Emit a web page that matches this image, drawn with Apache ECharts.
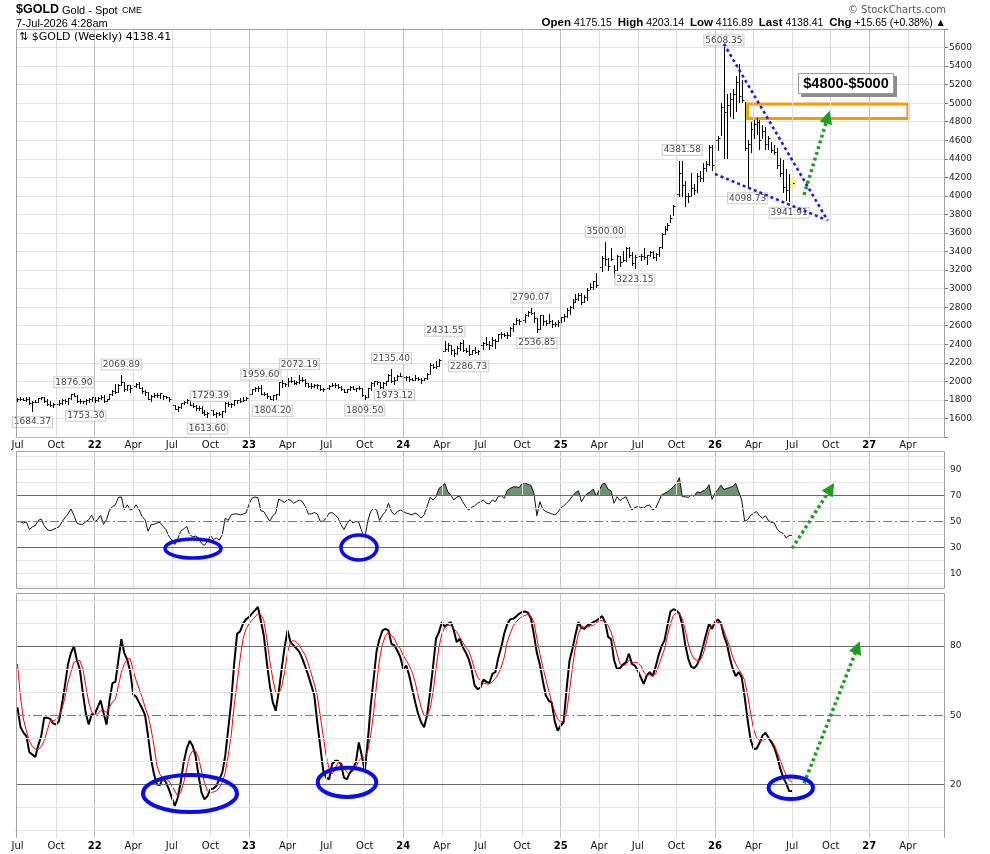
<!DOCTYPE html>
<html>
<head>
<meta charset="utf-8">
<title>$GOLD weekly</title>
<script src="https://cdn.jsdelivr.net/npm/echarts@6.0.0/dist/echarts.min.js"></script>
<style>
  html, body { margin: 0; padding: 0; background: #fff; }
  #chart { width: 990px; height: 854px; }
</style>
</head>
<body>
<div id="chart"></div>
<script>
// weekly bars [high, low, close], weeks start Mon 5-Jul-2021, one array per year
const hlc2021 = [
  [1818,1785,1808],[1834,1795,1812],[1825,1794,1802],[1832,1790,1814],[1832,1755,1763],
  [1783,1684.37,1779],[1795,1773,1781],[1822,1776,1817],[1834,1807,1827],[1827,1782,1788],
  [1809,1745,1754],[1787,1737,1750],[1764,1721,1761],[1781,1746,1757],[1800,1750,1768],
  [1814,1760,1796],[1810,1770,1783],[1819,1759,1818],[1868,1815,1864],[1876.90,1840,1846],
  [1849,1781,1788],[1808,1762,1783],[1793,1765,1783],[1814,1753.30,1798],[1816,1781,1809],
  [1831,1790,1829]
];
const hlc2022 = [
  [1830,1782,1797],[1830,1792,1818],[1848,1806,1835],[1853,1780,1791],[1814,1788,1808],
  [1865,1806,1859],[1902,1850,1898],[1974,1878,1889],[1975,1889,1966],[2069.89,1966,1988],
  [1990,1895,1921],[1966,1910,1958],[1960,1890,1925],[1945,1915,1945],[1980,1940,1974],
  [1998,1925,1931],[1934,1872,1896],[1910,1850,1883],[1884,1808,1811],[1850,1786,1846],
  [1870,1828,1853],[1874,1828,1851],[1876,1825,1871],[1857,1805,1840],[1847,1816,1827],
  [1832,1784,1811],[1813,1732,1742],[1745,1697,1703],[1739,1681,1727],[1767,1711,1766],
  [1788,1754,1775],[1807,1764,1802],[1802,1745,1747],[1765,1728,1738],[1740,1688,1712],
  [1735,1691,1716],[1735,1654,1675],[1688,1639,1644],[1674,1613.60,1660],[1729.39,1659,1695],
  [1690,1641,1644],[1670,1618,1657],[1675,1637,1645],[1684,1616,1681],[1775,1673,1771],
  [1787,1738,1751],[1763,1728,1755],[1804,1740,1797],[1800,1765,1797],[1825,1773,1793],
  [1833,1785,1798],[1833,1798,1824]
];
const hlc2023 = [
  [1870,1822,1866],[1922,1865,1921],[1937,1896,1926],[1949,1900,1928],[1959.60,1862,1865],
  [1890,1852,1865],[1870,1818,1842],[1846,1809,1811],[1858,1804.20,1856],[1869,1810,1868],
  [1990,1858,1989],[2010,1934,1978],[1987,1949,1969],[2032,1950,2008],[2048,1992,2004],
  [2015,1969,1983],[2009,1975,1990],[2072.19,1977,2017],[2048,2005,2011],[2022,1952,1977],
  [1985,1937,1946],[1983,1932,1948],[1971,1940,1961],[1971,1925,1958],[1959,1910,1921],
  [1930,1893,1919],[1935,1903,1925],[1963,1922,1955],[1987,1950,1962],[1982,1942,1959],
  [1968,1929,1943],[1945,1911,1914],[1917,1885,1889],[1923,1890,1915],[1953,1912,1940],
  [1953,1914,1919],[1932,1901,1924],[1947,1913,1925],[1925,1846,1849],[1850,1809.50,1833],
  [1933,1834,1932],[1997,1908,1981],[2009,1954,2006],[2004,1970,1992],[1992,1931,1940],
  [1993,1933,1981],[2008,1965,2002],[2075,2001,2072],[2135.40,1990,2005],[2047,1973.12,2019],
  [2071,2017,2053],[2088,2053,2063]
];
const hlc2024 = [
  [2079,2017,2045],[2062,2013,2049],[2062,2002,2029],[2037,2010,2018],[2065,2016,2039],
  [2050,2015,2024],[2033,1984,2013],[2041,2011,2035],[2088,2024,2083],[2195,2083,2179],
  [2185,2146,2155],[2223,2145,2165],[2236,2164,2230],[2330,2228,2329],[2431.55,2326,2344],
  [2417,2324,2392],[2393,2291,2337],[2353,2277,2301],[2378,2291,2360],[2422,2333,2415],
  [2450,2325,2334],[2365,2320,2327],[2387,2286.73,2293],[2336,2298,2333],[2368,2303,2321],
  [2338,2293,2326],[2392,2319,2392],[2424,2351,2411],[2483,2393,2400],[2434,2353,2387],
  [2477,2381,2443],[2461,2364,2431],[2509,2430,2507],[2531,2470,2512],[2525,2492,2503],
  [2529,2471,2497],[2586,2485,2578],[2625,2546,2622],[2685,2618,2658],[2673,2624,2653],
  [2670,2603,2657],[2722,2639,2721],[2758,2704,2747],[2790.07,2730,2736],[2750,2643,2685],
  [2688,2536.85,2563],[2721,2564,2716],[2721,2605,2650],[2666,2613,2633],[2726,2632,2648],
  [2665,2583,2622],[2638,2599,2621],[2665,2596,2640]
];
const hlc2025 = [
  [2697,2637,2690],[2725,2656,2703],[2786,2697,2770],[2817,2730,2798],[2886,2790,2861],
  [2942,2857,2883],[2955,2880,2936],[2956,2832,2858],[2930,2856,2910],[3004,2880,2984],
  [3057,2998,3023],[3087,3001,3085],[3167,3015,3037],[3245,2957,3237],[3357,3193,3327],
  [3500.00,3260,3319],[3330,3202,3241],[3435,3307,3325],[3252,3121,3204],[3366,3205,3357],
  [3348,3245,3289],[3403,3295,3310],[3446,3293,3433],[3452,3340,3368],[3398,3255,3274],
  [3365,3223.15,3337],[3375,3283,3355],[3377,3309,3350],[3439,3325,3337],[3363,3268,3363],
  [3409,3347,3398],[3404,3331,3336],[3379,3312,3371],[3454,3351,3448],[3600,3436,3586],
  [3674,3587,3643],[3707,3628,3685],[3791,3719,3760],[3897,3793,3886],[4059,3880,4018],
  [4380,4000,4252],[4381.58,4004,4113],[4162,3886,4002],[4030,3930,4000],[4245,3997,4085],
  [4132,4022,4065],[4245,4040,4218],[4264,4165,4198],[4353,4165,4300],[4375,4270,4340],
  [4550,4330,4530],[4545,4275,4330]
];
const hlc2026 = [
  [4640,4380,4600],[4650,4490,4620],[5000,4660,4960],[5608.35,4410,4900],[5095,4410,4980],
  [5115,4860,5050],[5150,4840,5100],[5290,4920,5230],[5425,5015,5080],[5250,5015,5030],
  [5015,4490,4520],[4605,4098.73,4560],[4800,4470,4720],[4820,4625,4780],[4840,4665,4800],
  [4820,4505,4600],[4760,4625,4700],[4740,4505,4560],[4645,4505,4620],[4585,4470,4500],
  [4545,4450,4470],[4520,4300,4330],[4410,4215,4250],[4390,4040,4100],[4290,3960,4060],
  [4235,3941.91,4122.76],[4203.14,4116.89,4138.41]
];

// RSI(14), weekly
const rsi2021 = [50,50,49,50,44,46,47,51,52,47,44,43,44,45,46,50,53,56,60,55,49,48,48,50,51.5,55];
const rsi2022 = [50,51.5,55,48,51.5,59,61.6,63,68.7,69,59,63,59,60,63,59,54,51.5,42.7,47.7,48,49,49.5,46.5,44,38.9,35.8,32.5,36.8,42.7,44.4,46.5,40,38.4,38.9,37.6,33.3,31.8,35,39.4,36.3,37.6,35.8,40,52.8,51,55.3,56,56,55.3,55.8,56.6];
const rsi2023 = [63.4,68,69,68.5,58.4,57.8,54,50.3,54.6,56.6,67.5,66.2,64.7,67.2,66.7,64.2,65.4,66.7,65.4,61.6,56,56,57,56,50.3,50.3,52.8,56.6,57,55.3,52.8,47.7,44,48.5,51.5,49,50.3,49.5,42.7,36.8,50.3,57.8,60.4,59,51,55.3,57.8,64.2,57.8,55.3,57.8,59];
const rsi2024 = [57.8,56.6,56,55.3,56.6,55.3,52.8,55.3,61.6,68.7,66.7,69.2,75.6,77.3,79.4,73,70.5,66.7,69,69.5,65.4,61.6,59,61,62.2,64.2,65.4,66.7,64.2,63.7,66.7,65.4,69.5,70,68,74,75.6,76.8,76.8,76.3,79.4,80.1,78.6,78,71.8,54.6,65.4,59.6,57.8,57,56,55.3,57];
const rsi2025 = [60.4,62.2,64.2,66.7,69.7,72.5,73.8,65.4,69.2,71.8,73,75,69.7,74.3,78.9,79.4,74.8,73.8,64.2,69.2,66.2,68,69.2,64.2,59,61,61.6,61,60.4,62.2,62.9,59,60.4,65.4,70.5,71.8,73,74.8,76.8,79.4,83.9,69.2,69.2,68.7,70.5,69.7,73,72.3,73.8,74.8,78.4,67.2];
const rsi2026 = [71.8,74.8,78.1,74.8,75.6,76.3,77.3,79.4,73,66.7,50.3,51.5,54.8,56.6,57.8,54.6,52.8,54.6,51,49.5,49,44,41.9,40.9,37.6,39.4,39.6];

// slow stochastic %K (black) and %D (red)
const k2021 = [53.5,45,42.5,41,34,33,32,37,41,49,49,48.5,46.5,46,47.5,55,63,72,77,80,74,70,60,51,46,50.5];
const k2022 = [50.5,53.5,56.5,51,46,56.5,64,64.5,74,83,77,74,69,59,58,55.5,53,50,41,31,24.5,20,19.7,23,21,18,14.3,10.7,14.3,21,29.6,35.4,39,36.8,32.5,24,16.5,13.6,15,18,18.3,19.4,22.3,25.2,32.5,44,55.7,72.3,85.4,86.4,89.7,91.6];
const k2023 = [92.6,94.1,95.5,97,91,84.6,73,63,55.7,52,60,70,79.6,86.8,81.7,80.3,79,77.4,74.5,71,67.2,63,58.6,47,36.8,26,23,22.3,28.8,30.3,30.3,28.8,23,22.3,25.2,26.7,29.6,38.3,32.5,26,38.3,54.2,65.8,78,83.2,86.8,87.5,86.8,81,80.3,78,75.2];
const k2024 = [70,71.6,67.2,61.4,55.7,50.6,47,44.8,50,60,71,83.2,86,90.4,88.3,89.7,90.4,86.8,81.7,83.2,79.6,77.4,74.5,70,63,61.4,62,65.5,64.5,64,68,68.7,75,79.6,85.5,89.5,91.6,91.9,92.8,94,94.8,95,94.5,92,85,77,72,65,58.6,56.4,55.5,47.5,43.3];
const k2025 = [45.5,47,61.4,73.8,79,85,90.5,88,87.5,89,89.5,90.4,91,92,93,90.4,84,83,74,70,70.5,72,73,76.7,72.3,71.6,69.4,66.5,63.6,67.2,68.7,67,71,76,80,82.5,89,95,96,95.5,94.1,89,80.5,74.5,71,70.5,72,75.2,80,85,89.7,87.5];
const k2026 = [90.4,91.6,90,84.5,81,75,70.1,67,68.7,66.5,58,48,39.5,35.5,35.5,38,41.2,42.5,40.4,38.3,36,32,27,23,20.5,17.2,17.2];
const d2021 = [72.3,58,48.4,43.3,39,36.5,35.4,35.1,36.5,39,43.3,47.7,47.7,48.1,49.6,52.8,57.8,64.3,68.7,73,73.5,73.8,70.4,62.9,55.7,51.3];
const d2022 = [50.6,50.6,52,52,51.3,53.5,55.7,57.1,62.9,68.7,72.3,74.5,74.5,69.4,65.1,61.4,57.8,53.5,49.9,44.1,36.8,28.1,24.5,22.3,22.3,21.6,19.4,17.2,15.1,16.5,20.9,26.7,32.5,34.6,34.6,31.7,25.9,20.9,17.2,16.5,16.8,17.2,18.7,20.9,25.2,32.5,41.2,54.2,64.3,74.5,83.2,87.5];
const d2023 = [89.7,91.2,92.6,94.1,93.6,91.2,83.2,73.8,65.8,60,59.3,62.2,68.7,77.4,81.7,82.5,81.7,80.3,78.1,75.9,72.3,68,63.6,58.6,49.9,41.2,32.5,26.7,24.5,26.7,29.6,29.6,27.4,25.2,24.5,25.9,27.4,30.3,31.7,31.7,34.6,41.2,51.3,63.6,74.5,81,84.6,86.1,84.6,83.2,80.3,78.8];
const d2024 = [75.9,73.8,71.6,68.7,64.3,58.6,53.5,49.9,49.9,52.8,60,70.1,79.6,85.4,88.3,89,89,87.5,86.1,83.9,81.7,79.6,78.1,74.5,70.1,66.5,65,64,63.6,63.6,64.5,66,68,70.9,75.2,81.7,85.4,88.7,90.4,91.9,92.8,93.3,93.9,93,90.4,83.2,76.7,70.9,65.8,60.7,55.7,51.6,48.4];
const d2025 = [47,47.7,51.3,60.7,70.9,79.6,85.4,88.3,88.3,88.3,88.7,89,90.1,90.9,91.2,90.4,89,86.1,81.7,76.7,72.3,71.6,71.9,73.8,73,73,72.8,71.6,68.7,67.5,67.5,67.2,68,71.3,75.2,78.8,84.6,89.7,93.3,94.5,94.1,91.9,86.8,81,76.7,74.5,73.8,73.8,76.4,81,86.4,89];
const d2026 = [89.7,90.4,89.6,86.8,83.2,79.6,75.2,72.3,69.9,68,65.1,58.8,51,44.1,40.4,39,39,39.7,40.4,39.3,37.1,33.9,30.6,27,24.1,22,20.9];

// swing labels [week index, price]
const swingHighs = [[19,1876.90],[35,2069.89],[65,1729.39],[82,1959.60],[95,2072.19],[126,2135.40],[144,2431.55],[173,2790.07],[198,3500.00],[224,4381.58],[238,5608.35]];
const swingLows = [[5,1684.37],[23,1753.30],[64,1613.60],[86,1804.20],[117,1809.50],[127,1973.12],[152,2286.73],[175,2536.85],[208,3223.15],[246,4098.73],[260,3941.91]];

// drawn annotations in data units [week index, value]
const trendUpper = [[238, 5640], [273, 3733]];
const trendLower = [[235, 4236], [272, 3748]];
const targetZone = [[246, 4990], [300, 4835]];
const priceArrow = [[265, 4010], [273, 4850]];
const rsiArrow = [[261, 29.5], [274, 75.6]];
const stochArrow = [[265, 20.5], [283, 79.5]];

const rsiLevels = [0, 10, 20, 30, 40, 50, 60, 70, 80, 90, 100];
const rsiLabelled = [10, 30, 50, 70, 90];
const stochLevels = [0, 10, 20, 30, 40, 50, 60, 70, 80, 90, 100];
const stochLabelled = [20, 50, 80];
const monthNames = ['Jan','Feb','Mar','Apr','May','Jun','Jul','Aug','Sep','Oct','Nov','Dec'];

const hlc = [].concat(hlc2021, hlc2022, hlc2023, hlc2024, hlc2025, hlc2026);
const rsi = [].concat(rsi2021, rsi2022, rsi2023, rsi2024, rsi2025, rsi2026);
const stochK = [].concat(k2021, k2022, k2023, k2024, k2025, k2026);
const stochD = [].concat(d2021, d2022, d2023, d2024, d2025, d2026);
const lastIndex = hlc.length - 1;

// axis runs to mid 2027
const WEEKS_ON_AXIS = 313;
const firstMonday = Date.UTC(2021, 6, 5);
const weekStarts = [];
for (let i = 0; i < WEEKS_ON_AXIS; i++) weekStarts.push(new Date(firstMonday + i * 7 * 864e5));
const categories = weekStarts.map(d => d.toISOString().slice(0, 10));
const isQuarterStart = idx => {
  const m = weekStarts[idx].getUTCMonth();
  if (m % 3 !== 0) return false;
  return idx === 0 || weekStarts[idx - 1].getUTCMonth() !== m;
};
const quarterIdx = [];
for (let i = 1; i < WEEKS_ON_AXIS; i++) if (isQuarterStart(i)) quarterIdx.push(i);

const LEFT = 16, WIDTH = 929;
const MAIN = { top: 29, bottom: 437 };
const RSI = { top: 451, bottom: 589, min: -1.77, max: 104.4 };
const STO = { top: 593, bottom: 838, min: -3.16, max: 103.03 };

const FONT = '"DejaVu Sans", Verdana, sans-serif';
const ARIAL = '"Liberation Sans", Arial, sans-serif';

// pixel row of the RSI 70 line, for the overbought fill
const rsi70 = (RSI.max - 70) / (RSI.max - RSI.min);
const obFill = new echarts.graphic.LinearGradient(0, RSI.top, 0, RSI.bottom, [
  { offset: 0, color: '#6f926f' }, { offset: rsi70, color: '#6f926f' },
  { offset: rsi70, color: 'rgba(255,255,255,0)' }, { offset: 1, color: 'rgba(255,255,255,0)' }
], true);

const vGridLines = quarterIdx.map(i => ({
  xAxis: i,
  lineStyle: { color: weekStarts[i].getUTCMonth() === 0 ? '#c2c2c2' : '#dedede', width: 1, type: 'solid' }
}));

function xAxisFor(gridIndex, showLabels, dotted) {
  return {
    type: 'category', gridIndex, data: categories, boundaryGap: true,
    axisLine: { show: dotted, lineStyle: { color: '#aaa', type: 'dotted' } },
    axisTick: { show: false },
    splitLine: { show: false },
    axisLabel: {
      show: showLabels, interval: idx => isQuarterStart(idx), margin: 3,
      fontFamily: FONT, fontSize: 10, color: '#111',
      formatter: v => {
        const d = new Date(v);
        const m = d.getUTCMonth();
        return m === 0 ? '{yr|' + String(d.getUTCFullYear()).slice(2) + '}' : monthNames[m];
      },
      rich: { yr: { fontFamily: FONT, fontSize: 10, fontWeight: 'bold', color: '#000' } }
    }
  };
}

function levelLines(levels, labelled, dark, dash) {
  return levels.map(v => {
    const item = { yAxis: v, lineStyle: { color: '#e6e6e6', width: 1, type: 'solid' } };
    if (dark.includes(v)) item.lineStyle = { color: '#6a6a6a', width: 1, type: 'solid' };
    if (v === dash) item.lineStyle = { color: '#7a7a7a', width: 1, type: [9, 3, 2, 3] };
    if (labelled.includes(v)) {
      item.label = { show: true, position: 'end', distance: 5, formatter: String(v),
        fontFamily: FONT, fontSize: 9, color: '#222' };
    }
    return item;
  });
}

function arrowLine(pts) {
  return {
    silent: true, animation: false, symbol: ['none', 'triangle'], symbolSize: 13,
    label: { show: false },
    lineStyle: { color: '#1e9e1e', width: 3.5, type: [3, 3] },
    itemStyle: { color: '#1e9e1e' },
    data: [[{ coord: pts[0] }, { coord: pts[1] }]]
  };
}

function swingSeries(points, above) {
  return {
    type: 'scatter', xAxisIndex: 0, yAxisIndex: 0, z: 6, silent: true,
    symbolSize: 1, itemStyle: { color: 'rgba(0,0,0,0)' },
    data: points.map(p => ({
      value: [p[0], p[1]],
      label: { distance: (p[1] > 5500) ? 1 : (above ? 5 : 6) }
    })),
    label: {
      show: true, position: above ? 'top' : 'bottom',
      formatter: p => p.value[1].toFixed(2),
      fontFamily: FONT, fontSize: 9, color: '#111', lineHeight: 10,
      backgroundColor: '#fff', borderColor: '#c4c4c4', borderWidth: 1, padding: [0, 1, 0, 1]
    }
  };
}

const chart = echarts.init(document.getElementById('chart'), null, { renderer: 'canvas' });

chart.setOption({
  animation: false,
  backgroundColor: '#fff',
  grid: [
    { left: LEFT, width: WIDTH, top: MAIN.top, height: MAIN.bottom - MAIN.top },
    { left: LEFT, width: WIDTH, top: RSI.top, height: RSI.bottom - RSI.top },
    { left: LEFT, width: WIDTH, top: STO.top, height: STO.bottom - STO.top }
  ],
  xAxis: [xAxisFor(0, true, true), xAxisFor(1, false, false), xAxisFor(2, true, true)],
  yAxis: [
    {
      type: 'value', gridIndex: 0, position: 'right', min: 1400, max: 5800, interval: 200,
      axisLine: { show: false },
      axisTick: { show: true, length: 3, lineStyle: { color: '#777' } },
      axisLabel: { margin: 4, fontFamily: FONT, fontSize: 9, color: '#222',
        formatter: v => (v <= 1400 || v >= 5800) ? '' : String(v) },
      splitLine: { lineStyle: { color: '#e3e3e3' } }
    },
    { type: 'value', gridIndex: 1, position: 'right', min: RSI.min, max: RSI.max,
      axisLine: { show: false }, axisTick: { show: false }, axisLabel: { show: false }, splitLine: { show: false } },
    { type: 'value', gridIndex: 2, position: 'right', min: STO.min, max: STO.max,
      axisLine: { show: false }, axisTick: { show: false }, axisLabel: { show: false }, splitLine: { show: false } }
  ],
  series: [
    // main panel quarter lines
    { type: 'line', xAxisIndex: 0, yAxisIndex: 0, data: [], z: 1, silent: true,
      markLine: { silent: true, symbol: 'none', label: { show: false }, animation: false, data: vGridLines } },
    // HLC bars
    {
      type: 'custom', xAxisIndex: 0, yAxisIndex: 0, z: 4, silent: true,
      data: hlc.map((b, i) => [i, b[0], b[1], b[2]]),
      encode: { x: 0, y: [1, 2, 3] },
      renderItem: (params, api) => {
        const idx = api.value(0);
        const hi = api.coord([idx, api.value(1)]);
        const lo = api.coord([idx, api.value(2)]);
        const cl = api.coord([idx, api.value(3)]);
        const x = Math.round(hi[0]) + 0.5;
        const yc = Math.round(cl[1]) + 0.5;
        const children = [];
        if (idx === lastIndex) {
          children.push({ type: 'rect', shape: { x: x - 2.5, y: hi[1], width: 6, height: lo[1] - hi[1] + 3 },
            style: { fill: '#ffff55' } });
        }
        children.push({ type: 'line', shape: { x1: x, y1: Math.round(hi[1]), x2: x, y2: Math.round(lo[1]) + 1 },
          style: { stroke: '#000', lineWidth: 1 } });
        children.push({ type: 'line', shape: { x1: x, y1: yc, x2: x + 2, y2: yc },
          style: { stroke: '#000', lineWidth: 1 } });
        return { type: 'group', children };
      }
    },
    swingSeries(swingHighs, true),
    swingSeries(swingLows, false),
    // wedge lines
    { type: 'line', xAxisIndex: 0, yAxisIndex: 0, data: trendUpper, z: 7, silent: true, symbol: 'none',
      lineStyle: { color: '#1c1cf0', width: 2.6, type: [3, 3] } },
    { type: 'line', xAxisIndex: 0, yAxisIndex: 0, data: trendLower, z: 7, silent: true, symbol: 'none',
      lineStyle: { color: '#1c1cf0', width: 2.6, type: [3, 3] } },
    // target zone + arrow
    { type: 'line', xAxisIndex: 0, yAxisIndex: 0, data: [], z: 8, silent: true,
      markArea: { silent: true, animation: false,
        itemStyle: { color: 'rgba(0,0,0,0)', borderColor: '#ff9900', borderWidth: 3 },
        data: [[{ coord: targetZone[0] }, { coord: targetZone[1] }]] },
      markLine: arrowLine(priceArrow) },
    // RSI grid lines
    { type: 'line', xAxisIndex: 1, yAxisIndex: 1, data: [], z: 1, silent: true,
      markLine: { silent: true, symbol: 'none', animation: false, label: { show: false },
        data: vGridLines.concat(levelLines(rsiLevels, rsiLabelled, [30, 70], 50)) } },
    // RSI overbought fill
    { type: 'line', xAxisIndex: 1, yAxisIndex: 1, data: rsi, z: 2, silent: true, symbol: 'none',
      lineStyle: { width: 0, color: 'rgba(0,0,0,0)' }, areaStyle: { opacity: 1, origin: 'start', color: obFill } },
    // RSI line
    { type: 'line', xAxisIndex: 1, yAxisIndex: 1, data: rsi, z: 3, silent: true, symbol: 'none',
      lineStyle: { color: '#111', width: 1 } },
    { type: 'line', xAxisIndex: 1, yAxisIndex: 1, data: [], z: 8, silent: true, markLine: arrowLine(rsiArrow) },
    // stochastic grid lines
    { type: 'line', xAxisIndex: 2, yAxisIndex: 2, data: [], z: 1, silent: true,
      markLine: { silent: true, symbol: 'none', animation: false, label: { show: false },
        data: vGridLines.concat(levelLines(stochLevels, stochLabelled, [20, 80], 50)) } },
    { type: 'line', xAxisIndex: 2, yAxisIndex: 2, data: stochK, z: 3, silent: true, symbol: 'none',
      lineStyle: { color: '#000', width: 2 } },
    { type: 'line', xAxisIndex: 2, yAxisIndex: 2, data: stochD, z: 4, silent: true, symbol: 'none',
      lineStyle: { color: '#ff0000', width: 1 } },
    { type: 'line', xAxisIndex: 2, yAxisIndex: 2, data: [], z: 8, silent: true, markLine: arrowLine(stochArrow) }
  ],
  graphic: [
    // panel frames
    { type: 'polyline', z: 100, silent: true,
      shape: { points: [[16.5, MAIN.bottom], [16.5, MAIN.top + 0.5], [944.5, MAIN.top + 0.5], [944.5, MAIN.bottom]] },
      style: { stroke: '#a0a0a0', lineWidth: 1, fill: null } },
    { type: 'rect', z: 100, silent: true,
      shape: { x: 16.5, y: RSI.top + 0.5, width: 928, height: RSI.bottom - RSI.top - 1 },
      style: { stroke: '#a0a0a0', lineWidth: 1, fill: 'none' } },
    { type: 'polyline', z: 100, silent: true,
      shape: { points: [[16.5, STO.bottom], [16.5, STO.top + 0.5], [944.5, STO.top + 0.5], [944.5, STO.bottom]] },
      style: { stroke: '#a0a0a0', lineWidth: 1, fill: null } },
    // header
    { type: 'text', x: 16, y: 10, z: 100, style: { text: '$GOLD', font: 'bold 12.5px ' + ARIAL, fill: '#000', verticalAlign: 'middle' } },
    { type: 'text', x: 62, y: 10.5, z: 100, style: { text: 'Gold - Spot', font: '11px ' + ARIAL, fill: '#000', verticalAlign: 'middle' } },
    { type: 'text', x: 122, y: 11, z: 100, style: { text: 'CME', font: '9px ' + ARIAL, fill: '#000', verticalAlign: 'middle' } },
    { type: 'text', x: 16, y: 24, z: 100, style: { text: '7-Jul-2026 4:28am', font: '11px ' + ARIAL, fill: '#000', verticalAlign: 'middle' } },
    { type: 'text', x: 946, y: 10, z: 100, style: { text: '© StockCharts.com', font: '10px ' + FONT, fill: '#555', align: 'right', verticalAlign: 'middle' } },
    { type: 'text', x: 946, y: 23, z: 100, style: {
      text: '{b|Open} 4175.15  {b|High} 4203.14  {b|Low} 4116.89  {b|Last} 4138.41  {b|Chg} +15.65 (+0.38%) ▲',
      font: '10.5px ' + ARIAL, fill: '#000', align: 'right', verticalAlign: 'middle',
      rich: { b: { font: 'bold 11.5px ' + ARIAL, fill: '#000' } } } },
    { type: 'text', x: 19, y: 37, z: 100, style: { text: '⇅ $GOLD (Weekly) 4138.41', font: '11px ' + FONT, fill: '#000', verticalAlign: 'middle' } },
    // target price note
    { type: 'rect', z: 100, silent: true, shape: { x: 801, y: 76, width: 96, height: 21 }, style: { fill: '#8c8c8c' } },
    { type: 'rect', z: 101, silent: true, shape: { x: 798.5, y: 73.5, width: 95, height: 20 }, style: { fill: '#fff', stroke: '#9a9a9a', lineWidth: 1 } },
    { type: 'text', x: 846, y: 84, z: 102, style: { text: '$4800-$5000', font: 'bold 14.5px ' + ARIAL, fill: '#000', align: 'center', verticalAlign: 'middle' } },
    // hand drawn ellipses
    { type: 'ellipse', z: 100, silent: true, shape: { cx: 193, cy: 548.5, rx: 28, ry: 9.5 }, style: { fill: 'none', stroke: '#0b0bf0', lineWidth: 3.6 } },
    { type: 'ellipse', z: 100, silent: true, shape: { cx: 359, cy: 547.5, rx: 18, ry: 12.5 }, style: { fill: 'none', stroke: '#0b0bf0', lineWidth: 3.6 } },
    { type: 'ellipse', z: 100, silent: true, shape: { cx: 190, cy: 793.5, rx: 47, ry: 18.5 }, style: { fill: 'none', stroke: '#0b0bf0', lineWidth: 4 } },
    { type: 'ellipse', z: 100, silent: true, shape: { cx: 347, cy: 782.3, rx: 29.3, ry: 14.6 }, style: { fill: 'none', stroke: '#0b0bf0', lineWidth: 4 } },
    { type: 'ellipse', z: 100, silent: true, shape: { cx: 790.8, cy: 787.7, rx: 22.2, ry: 11.3 }, style: { fill: 'none', stroke: '#0b0bf0', lineWidth: 4 } }
  ]
});
</script>
</body>
</html>
